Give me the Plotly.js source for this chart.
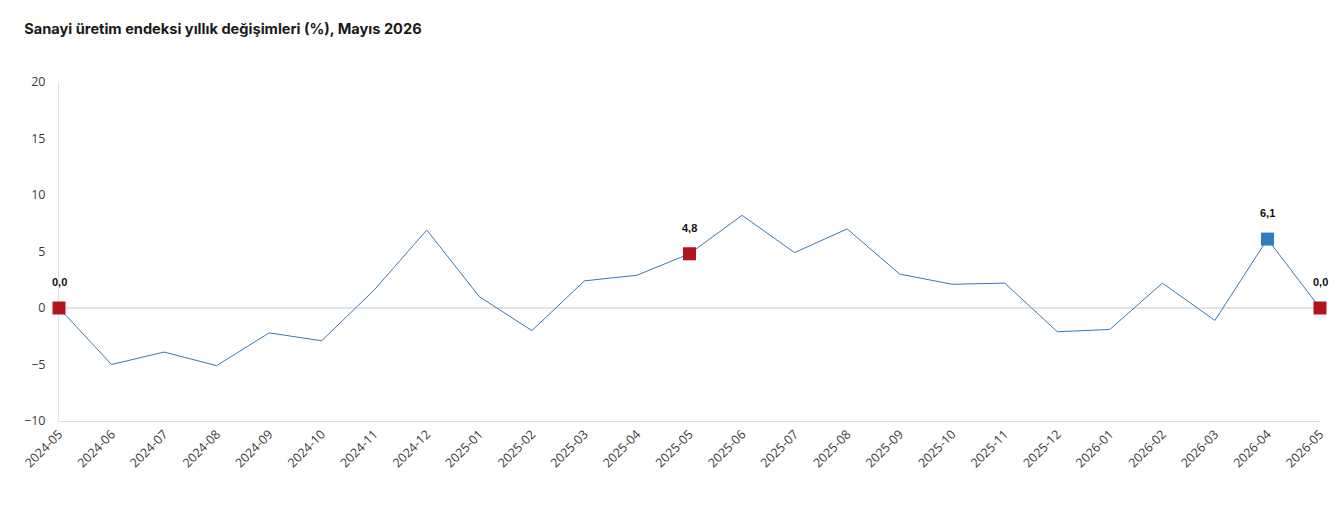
<!DOCTYPE html>
<html><head><meta charset="utf-8">
<script src="https://cdn.plot.ly/plotly-3.0.1.min.js"></script>
<style>body{margin:0;background:#fff}#c{width:1343px;height:528px}</style>
</head><body><div id="c"></div>
<script>
const months = ["2024-05","2024-06","2024-07","2024-08","2024-09","2024-10","2024-11","2024-12","2025-01","2025-02","2025-03","2025-04","2025-05","2025-06","2025-07","2025-08","2025-09","2025-10","2025-11","2025-12","2026-01","2026-02","2026-03","2026-04","2026-05"];
const values = [0.0,-5.0,-3.9,-5.1,-2.2,-2.9,1.6,6.9,1.0,-2.0,2.4,2.9,4.8,8.2,4.9,7.0,3.0,2.1,2.2,-2.1,-1.9,2.2,-1.1,6.1,0.0];
const redMonths = ["2024-05","2025-05","2026-05"];
const blueMonths = ["2026-04"];
const fmt = v => v.toFixed(1).replace('.', ',');
const pick = ms => ms.map(m => values[months.indexOf(m)]);

const traces = [
  {x: months, y: values, type:'scatter', mode:'lines', line:{color:'#3b78b2', width:1}, hoverinfo:'x+y', cliponaxis:false},
  {x: redMonths, y: pick(redMonths), type:'scatter', mode:'markers', marker:{symbol:'square', size:13, color:'#b3141c'}, cliponaxis:false},
  {x: blueMonths, y: pick(blueMonths), type:'scatter', mode:'markers', marker:{symbol:'square', size:13, color:'#2e7dc0'}, cliponaxis:false}
];
const labelled = redMonths.concat(blueMonths);
const annotations = labelled.map(m => ({
  x: m, y: values[months.indexOf(m)], text: '<b>' + fmt(values[months.indexOf(m)]) + '</b>',
  showarrow:false, yshift: 26, font:{family:'Liberation Sans, Arial', size:11, color:'#111'}
}));

const tf = {family:'Open Sans', size:12.5, color:'#3a3a3a'};
const layout = {
  width:1343, height:528,
  margin:{l:59, r:23, t:82, b:107},
  paper_bgcolor:'#fff', plot_bgcolor:'#fff',
  showlegend:false,
  title:{text:'<b>Sanayi üretim endeksi yıllık değişimleri (%), Mayıs 2026</b>', x:0.018, xanchor:'left', y:0.945, yanchor:'middle', font:{family:'Inter', size:14.6, color:'#1a1a1a'}},
  xaxis:{type:'category', range:[0,24], tickangle:-45, showgrid:false, zeroline:false, showline:true, linecolor:'#dddddd', linewidth:1, ticks:'', layer:'below traces', tickfont:tf},
  yaxis:{range:[-10,20], tickvals:[-10,-5,0,5,10,15,20], showgrid:false, zeroline:true, zerolinecolor:'#e4e4e4', zerolinewidth:1.5, showline:true, linecolor:'#e4e4e4', linewidth:1, ticks:'', layer:'below traces', ticklabelstandoff:10, tickfont:tf},
  annotations: annotations
};
Plotly.newPlot('c', traces, layout, {displayModeBar:false, staticPlot:true});
</script></body></html>
